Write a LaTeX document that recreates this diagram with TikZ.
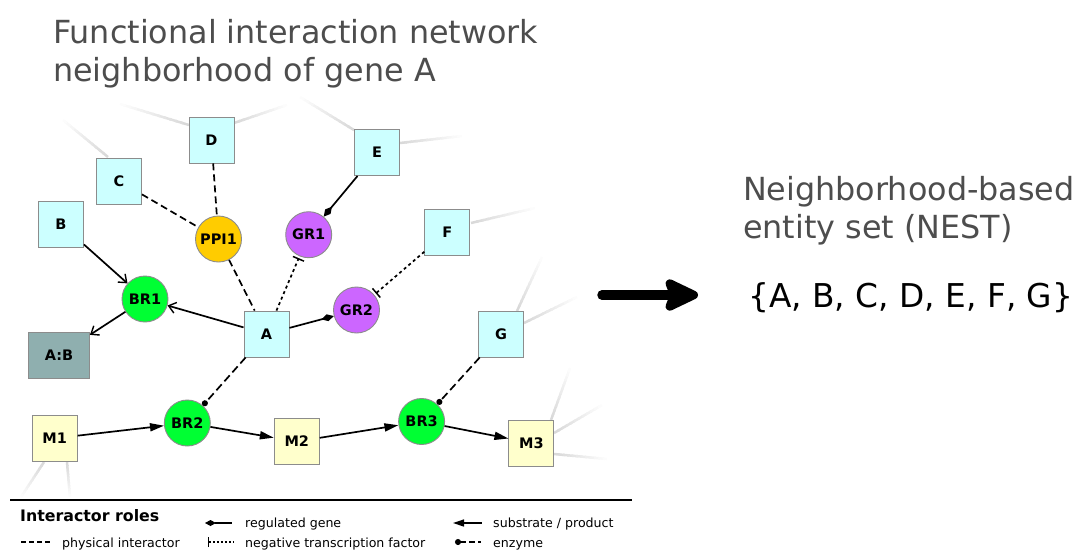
\documentclass[tikz,border=0pt]{standalone}
\usepackage{fontspec}
\setmainfont{DejaVu Sans}
\usetikzlibrary{arrows.meta,calc}
\definecolor{cyanbox}{HTML}{CCFFFF}
\definecolor{yelbox}{HTML}{FFFFCC}
\definecolor{abbox}{HTML}{8FAFAF}
\definecolor{brgreen}{HTML}{00FF33}
\definecolor{ppiyel}{HTML}{FFCC00}
\definecolor{grpurp}{HTML}{CC66FF}
\definecolor{nodeedge}{HTML}{8C8C8C}
\definecolor{titlegray}{HTML}{4D4D4D}
\newcommand{\fadeseg}[2]{%
  \foreach \k in {0,...,11}{%
    \pgfmathsetmacro{\ka}{\k/12}%
    \pgfmathsetmacro{\kb}{min((\k+1.4)/12,1)}%
    \pgfmathsetmacro{\kc}{15*(1-\k/12)}%
    \draw[line width=2.5pt, black!\kc] ($(#1)!\ka!(#2)$) -- ($(#1)!\kb!(#2)$);}}
\begin{document}
\begin{tikzpicture}[x=1pt,y=-1pt,
  box/.style={draw=nodeedge, line width=0.9pt, minimum width=45pt, minimum height=46pt, inner sep=0pt, font=\fontsize{14.5}{17}\selectfont\bfseries},
  gene/.style={box, fill=cyanbox},
  metab/.style={box, fill=yelbox},
  cplx/.style={box, fill=abbox, minimum width=61pt},
  ent/.style={circle, draw=nodeedge, line width=0.9pt, minimum size=46pt, inner sep=0pt, font=\fontsize{14.5}{17}\selectfont\bfseries},
  rxn/.style={ent, fill=brgreen},
  ppi/.style={ent, fill=ppiyel},
  reg/.style={ent, fill=grpurp},
  edge/.style={line width=1.7pt, black},
  phys/.style={edge, dash pattern=on 7pt off 4pt},
  negtf/.style={edge, dash pattern=on 3pt off 3pt, -{Bar[width=12pt,line width=1.5pt]}, shorten >=2pt},
  regul/.style={edge, -{Diamond[length=13pt,width=7pt]}},
  subst/.style={edge, -{Triangle[length=14pt,width=8pt]}},
  cmplxarr/.style={edge, -{Straight Barb[length=7pt,width=11pt,line width=1.4pt]}},
  enz/.style={edge, dash pattern=on 8pt off 4pt, -{Circle[length=6pt]}},
  bigtext/.style={font=\fontsize{31.8}{38}\selectfont, text=titlegray, anchor=base west, inner sep=0pt},
  settext/.style={font=\fontsize{32.8}{38}\selectfont, text=black, anchor=base west, inner sep=0pt},
  legtext/.style={font=\fontsize{12.6}{15}\selectfont, anchor=base west, inner sep=0pt},
  leghead/.style={font=\fontsize{15.8}{18}\selectfont\bfseries, anchor=base west, inner sep=0pt},
]
\useasboundingbox (0,0) rectangle (1076,550);

% faded background edges
\coordinate (f1s) at (108,157);  \coordinate (f1e) at (63,120);
\coordinate (f2s) at (189,125);  \coordinate (f2e) at (120,104);
\coordinate (f3s) at (234,123);  \coordinate (f3e) at (287,105);
\coordinate (f4s) at (354,130);  \coordinate (f4e) at (300,97);
\coordinate (f5s) at (400,143);  \coordinate (f5e) at (462,136);
\coordinate (f6s) at (471,223);  \coordinate (f6e) at (535,208);
\coordinate (f7s) at (517,311);  \coordinate (f7e) at (542,257);
\coordinate (f8s) at (524,323);  \coordinate (f8e) at (577,297);
\coordinate (f9s) at (551,420);  \coordinate (f9e) at (570,368);
\coordinate (f10s) at (554,433); \coordinate (f10e) at (602,405);
\coordinate (f11s) at (554,454); \coordinate (f11e) at (607,459);
\coordinate (f12s) at (44,462);  \coordinate (f12e) at (21,497);
\coordinate (f13s) at (67,462);  \coordinate (f13e) at (70,497);
\fadeseg{f1s}{f1e}\fadeseg{f2s}{f2e}\fadeseg{f3s}{f3e}\fadeseg{f4s}{f4e}
\fadeseg{f5s}{f5e}\fadeseg{f6s}{f6e}\fadeseg{f7s}{f7e}\fadeseg{f8s}{f8e}
\fadeseg{f9s}{f9e}\fadeseg{f10s}{f10e}\fadeseg{f11s}{f11e}\fadeseg{f12s}{f12e}
\fadeseg{f13s}{f13e}

% titles
\node[bigtext] (t1) at (53,43) {Functional interaction network};
\node[bigtext] (t2) at (53,81) {neighborhood of gene A};
\node[bigtext] (n1) at (743,200) {Neighborhood-based};
\node[bigtext] (n2) at (743,238) {entity set (NEST)};
\node[settext] (set) at (748,307) {\{A, B, C, D, E, F, G\}};

% nodes
\node[gene] (D) at (211.5,140) {D};
\node[gene] (C) at (119,181) {C};
\node[gene] (B) at (61,224) {B};
\node[gene] (E) at (377,152.5) {E};
\node[gene] (F) at (447.3,232) {F};
\node[gene] (A) at (266.5,334) {A};
\node[gene] (G) at (501,334) {G};
\node[cplx] (AB) at (59,355) {A:B};
\node[ppi] (PPI1) at (218.5,239) {PPI1};
\node[reg] (GR1) at (308.7,234.7) {GR1};
\node[reg] (GR2) at (356.5,310) {GR2};
\node[rxn] (BR1) at (145,299) {BR1};
\node[rxn] (BR2) at (187.3,423) {BR2};
\node[rxn] (BR3) at (421.6,421.5) {BR3};
\node[metab] (M1) at (54.7,438.3) {M1};
\node[metab] (M2) at (296.8,441.5) {M2};
\node[metab] (M3) at (531.4,443) {M3};

% edges
\draw[phys] (C) -- (PPI1);
\draw[phys] (D) -- (PPI1);
\draw[phys] (PPI1) -- (A);
\draw[negtf] (A) -- (GR1);
\draw[negtf] (F) -- (GR2);
\draw[regul] (E) -- (GR1);
\draw[regul] (A) -- (GR2);
\draw[cmplxarr] (B) -- (BR1);
\draw[cmplxarr] (A) -- (BR1);
\draw[cmplxarr] (BR1) -- (AB);
\draw[enz] (A) -- (BR2);
\draw[enz] (G) -- (BR3);
\draw[subst] (M1) -- (BR2);
\draw[subst] (BR2) -- (M2);
\draw[subst] (M2) -- (BR3);
\draw[subst] (BR3) -- (M3);

% big arrow
\coordinate (ba1) at (602,295);
\coordinate (ba2) at (698,295);
\draw[line width=9.5pt, line cap=round, -{Stealth[length=41pt,width=38pt,inset=7pt,round]}] (ba1) -- (ba2);

% legend
\coordinate (lg1) at (10,500);
\coordinate (lg2) at (632,500);
\draw[line width=2.8pt] (lg1) -- (lg2);
\node[leghead] (lh) at (20,521.7) {Interactor roles};
\coordinate (p1) at (21,542);  \coordinate (p2) at (50,542);
\draw[line width=1.3pt, dash pattern=on 5pt off 3pt] (p1) -- (p2);
\node[legtext] (pt) at (62,547) {physical interactor};
\coordinate (r1) at (205,523); \coordinate (r2) at (232,523);
\draw[line width=1.3pt, {Diamond[length=11pt,width=6pt]}-] (r1) -- (r2);
\node[legtext] (rt) at (245,527) {regulated gene};
\coordinate (n1a) at (208,542); \coordinate (n1b) at (233,542);
\draw[line width=1.1pt, dash pattern=on 2pt off 2pt, {Bar[width=10pt,line width=1pt]}-] (n1a) -- (n1b);
\node[legtext] (nt) at (245,547) {negative transcription factor};
\coordinate (s1) at (453,523); \coordinate (s2) at (482,523);
\draw[line width=1.3pt, {Triangle[length=11pt,width=7pt]}-] (s1) -- (s2);
\node[legtext] (st) at (493,527) {substrate / product};
\coordinate (e1) at (455,542); \coordinate (e2) at (481,542);
\draw[line width=1.3pt, dash pattern=on 6pt off 3pt, {Circle[length=6pt]}-] (e1) -- (e2);
\node[legtext] (et) at (493,547) {enzyme};
\end{tikzpicture}
\end{document}
